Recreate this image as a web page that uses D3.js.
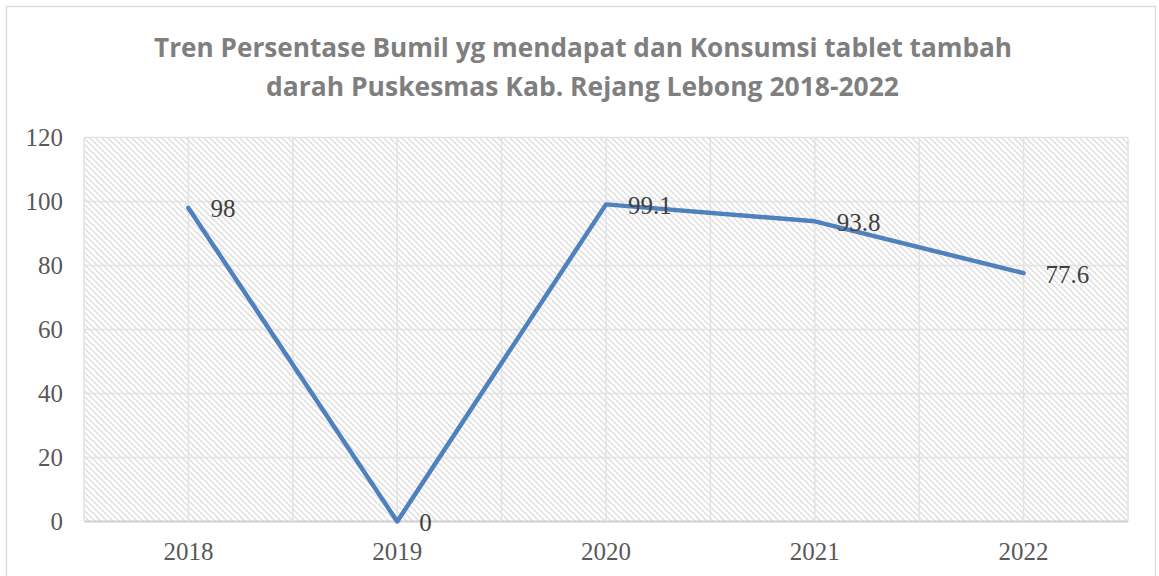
<!DOCTYPE html>
<html>
<head>
<meta charset="utf-8">
<script src="https://cdn.jsdelivr.net/npm/d3@7"></script>
<style>
  html, body { margin: 0; padding: 0; background: #ffffff; }
  svg { display: block; }
</style>
</head>
<body>
<svg id="chart" width="1159" height="576"></svg>
<script>
// ---- data ----
const categories = ["2018", "2019", "2020", "2021", "2022"];
const values = [98, 0, 99.1, 93.8, 77.6];
const valueLabels = ["98", "0", "99.1", "93.8", "77.6"];
const yTicks = [0, 20, 40, 60, 80, 100, 120];
const titleLines = [
  "Tren Persentase Bumil yg mendapat dan Konsumsi tablet tambah",
  "darah Puskesmas Kab. Rejang Lebong 2018-2022"
];

// ---- layout ----
const W = 1159, H = 576;
const plot = { left: 84, right: 1128, top: 137.5, bottom: 521.5 };
const svg = d3.select("#chart");

// background + outer border
svg.append("rect").attr("x", 0).attr("y", 0).attr("width", W).attr("height", H).attr("fill", "#fff");
svg.append("rect")
  .attr("x", 6.5).attr("y", 6.5).attr("width", 1149).attr("height", 590)
  .attr("fill", "#fff").attr("stroke", "#d9d9d9").attr("stroke-width", 1.3);

// hatch pattern
const defs = svg.append("defs");
const pat = defs.append("pattern")
  .attr("id", "hatch").attr("patternUnits", "userSpaceOnUse")
  .attr("width", 6).attr("height", 6);
pat.append("rect").attr("width", 6).attr("height", 6).attr("fill", "#fff");
pat.append("path")
  .attr("d", "M-3,3 L3,9 M0,0 L6,6 M3,-3 L9,3")
  .attr("stroke", "#dedede").attr("stroke-width", 1.4).attr("fill", "none");

// scales
const x = d3.scaleBand().domain(categories).range([plot.left, plot.right]).padding(0);
const xc = c => x(c) + x.bandwidth() / 2;
const y = d3.scaleLinear().domain([0, 120]).range([plot.bottom, plot.top]);

// plot area fill
svg.append("rect")
  .attr("x", plot.left).attr("y", plot.top)
  .attr("width", plot.right - plot.left).attr("height", plot.bottom - plot.top)
  .attr("fill", "url(#hatch)");

// horizontal gridlines
svg.append("g").selectAll("line").data(yTicks).join("line")
  .attr("x1", plot.left).attr("x2", plot.right)
  .attr("y1", d => y(d)).attr("y2", d => y(d))
  .attr("stroke", d => d === 0 ? "#d0d0d0" : "#e2e2e2")
  .attr("stroke-width", d => d === 0 ? 2 : 1.5);

// vertical gridlines at band edges and centers
const vPos = [];
categories.forEach(c => { vPos.push(x(c)); vPos.push(xc(c)); });
vPos.push(plot.right);
svg.append("g").selectAll("line").data(vPos).join("line")
  .attr("x1", d => d).attr("x2", d => d)
  .attr("y1", plot.top).attr("y2", plot.bottom)
  .attr("stroke", "#e2e2e2").attr("stroke-width", 1.5);

// y axis labels
svg.append("g").selectAll("text").data(yTicks).join("text")
  .attr("x", 63).attr("y", d => y(d))
  .attr("text-anchor", "end").attr("dominant-baseline", "central")
  .attr("font-family", "'Liberation Serif', serif").attr("font-size", 25)
  .attr("fill", "#595959")
  .text(d => d);

// x axis labels
svg.append("g").selectAll("text").data(categories).join("text")
  .attr("x", c => xc(c)).attr("y", 560)
  .attr("text-anchor", "middle")
  .attr("font-family", "'Liberation Serif', serif").attr("font-size", 25)
  .attr("fill", "#595959")
  .text(c => c);

// line
const pts = categories.map((c, i) => [xc(c), y(values[i])]);
svg.append("path")
  .attr("d", d3.line()(pts))
  .attr("fill", "none").attr("stroke", "#4f81bd")
  .attr("stroke-width", 4.5).attr("stroke-linejoin", "round").attr("stroke-linecap", "round");

// data labels
svg.append("g").selectAll("text").data(categories).join("text")
  .attr("x", (c, i) => xc(c) + 22).attr("y", (c, i) => y(values[i]) + 1)
  .attr("text-anchor", "start").attr("dominant-baseline", "central")
  .attr("font-family", "'Liberation Serif', serif").attr("font-size", 25)
  .attr("fill", "#404040")
  .text((c, i) => valueLabels[i]);

// title
const tl = [
  { y: 57, len: 858, cx: 583 },
  { y: 95.5, len: 633, cx: 582.5 }
];
svg.append("g").selectAll("text").data(titleLines).join("text")
  .attr("x", (d, i) => tl[i].cx).attr("y", (d, i) => tl[i].y)
  .attr("text-anchor", "middle")
  .attr("font-family", "'Open Sans', sans-serif").attr("font-weight", "bold")
  .attr("font-size", 27)
  .attr("textLength", (d, i) => tl[i].len).attr("lengthAdjust", "spacingAndGlyphs")
  .attr("fill", "#7f7f7f")
  .text(d => d);
</script>
</body>
</html>
